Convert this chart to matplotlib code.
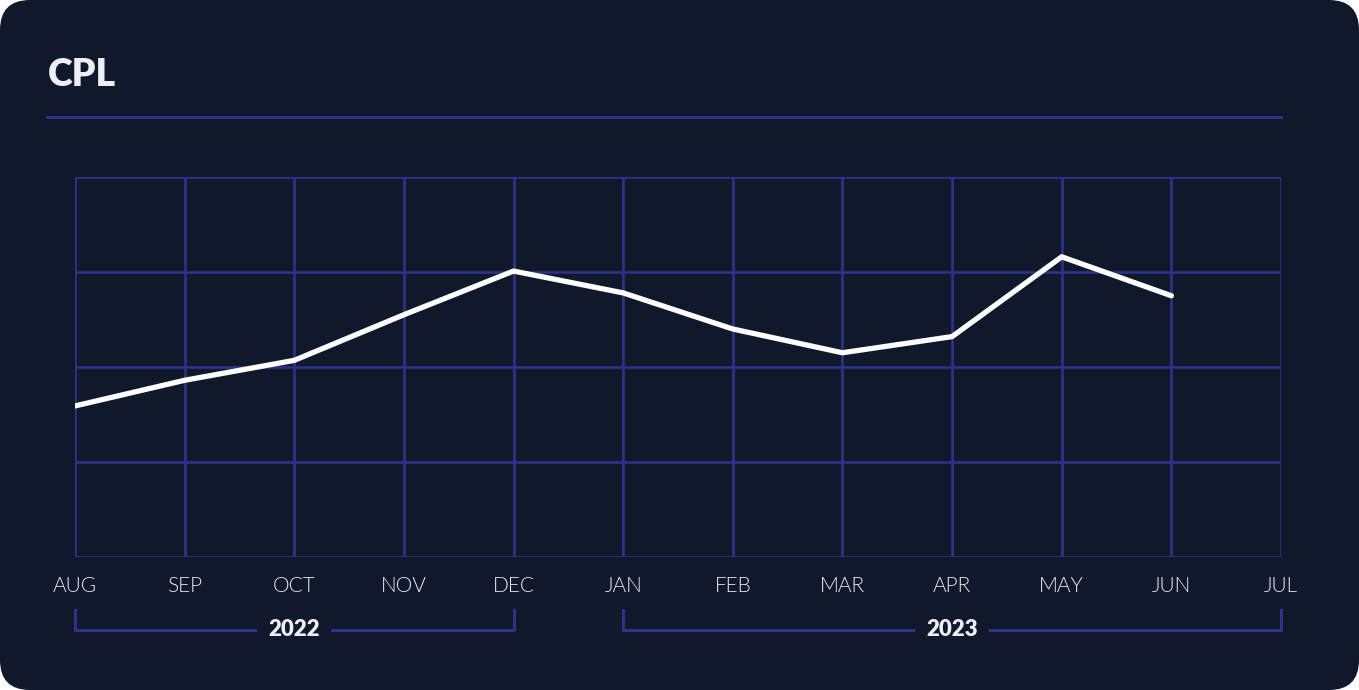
import matplotlib
matplotlib.use("Agg")
import matplotlib.pyplot as plt
from matplotlib.patches import FancyBboxPatch

# CPL by month (grid units, 0..4)
months = ["AUG", "SEP", "OCT", "NOV", "DEC", "JAN", "FEB", "MAR", "APR", "MAY", "JUN", "JUL"]
cpl = [1.59, 1.86, 2.07, 2.55, 3.01, 2.78, 2.40, 2.15, 2.32, 3.16, 2.75]
years = ["2022", "2023"]
year_spans = [(0, 4), (5, 11)]

BG = "#0f192b"
GRID = "#30318a"
TEXT = "#eceef8"

plt.rcParams["font.family"] = ["Lato", "DejaVu Sans"]

fig = plt.figure(figsize=(13.59, 6.90), dpi=100, facecolor="white")
card = FancyBboxPatch((0, 0), 13.59, 6.90, boxstyle="round,pad=0,rounding_size=0.3",
                      transform=fig.dpi_scale_trans, facecolor=BG, edgecolor="none", zorder=-10)
fig.patches.append(card)

fig.text(48 / 1359, 1 - 75 / 690, "CPL", color=TEXT, fontsize=27, fontweight="heavy",
         va="center", ha="left")
fig.add_artist(plt.Line2D([47 / 1359, 1281 / 1359], [1 - 117 / 690, 1 - 117 / 690],
                          color=GRID, lw=2.2, transform=fig.transFigure))

ax = fig.add_axes([75 / 1359, 1 - 557 / 690, 1206 / 1359, 380 / 690])
ax.set_facecolor("none")
x = list(range(len(months)))
ax.set_xlim(0, len(months) - 1)
ax.set_ylim(0, 4)

for xi in x:
    ax.axvline(xi, color=GRID, lw=1.9, zorder=1)
for yi in range(5):
    ax.axhline(yi, color=GRID, lw=1.9, zorder=1)
for s in ax.spines.values():
    s.set_visible(False)

ax.plot(x[:len(cpl)], cpl, color="white", lw=3.8, solid_capstyle="round",
        solid_joinstyle="round", zorder=3)

ax.set_xticks(x)
ax.set_xticklabels(months, fontsize=15, fontweight=300, color=TEXT)
ax.tick_params(axis="x", length=0, pad=14)
ax.set_yticks([])

# year brackets under the month labels
tr = ax.get_xaxis_transform()
for label, (a, b) in zip(years, year_spans):
    ax.plot([a, a, b, b], [-0.139, -0.192, -0.192, -0.139], color=GRID, lw=2.2,
            transform=tr, clip_on=False, zorder=1)
    ax.text((a + b) / 2, -0.192, label, transform=tr, ha="center", va="center",
            fontsize=16, fontweight="heavy", color=TEXT, zorder=2,
            bbox=dict(facecolor=BG, edgecolor="none", pad=8))

fig.savefig("out.png", dpi=100, facecolor="white")
